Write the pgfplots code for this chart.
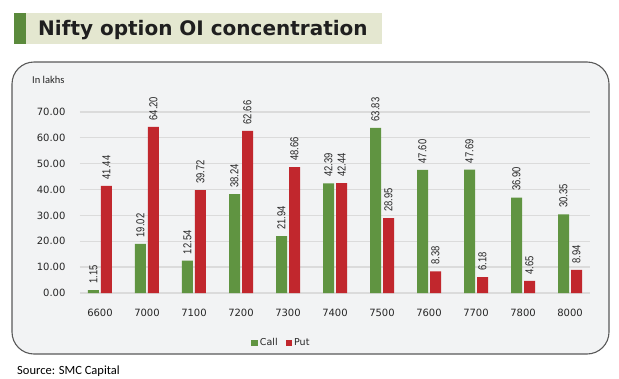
\documentclass[border=0pt]{standalone}
\usepackage{fontspec}
\setmainfont{DejaVu Sans}
\newfontfamily\calibri{Carlito}
\newfontfamily\narrow[FakeStretch=0.82]{Liberation Sans}
\usepackage{pgfplots}
\pgfplotsset{compat=1.18}
\definecolor{callgreen}{HTML}{609441}
\definecolor{putred}{HTML}{C1272D}
\definecolor{titlebg}{HTML}{E4E7D0}
\definecolor{titlegreen}{HTML}{5B8A3C}
\definecolor{boxbg}{HTML}{F2F3F4}
\begin{document}
\begin{tikzpicture}
\useasboundingbox (0pt,0pt) rectangle (619pt,-378pt);
% title band
\fill[titlebg] (25pt,-12.5pt) rectangle (382pt,-43.5pt);
\fill[titlegreen] (14pt,-12.5pt) rectangle (25.5pt,-43.5pt);
\node[anchor=base west, inner sep=0pt, font=\fontsize{20}{24}\selectfont\bfseries, text=black!88] at (38pt,-35pt) {Nifty option OI concentration};
% chart box
\draw[fill=boxbg, draw=black!65, line width=1.1pt, rounded corners=22pt] (12pt,-62pt) rectangle (609pt,-354pt);
\node[anchor=base west, inner sep=0pt, font=\calibri\fontsize{10.5}{12}\selectfont, text=black!85] at (32pt,-83pt) {In lakhs};
\begin{axis}[
  at={(80pt,-293pt)}, anchor=south west,
  scale only axis, width=510pt, height=207pt,
  xmin=-0.4255, xmax=10.4255, ymin=0, ymax=80,
  ybar=2pt, bar width=11pt,
  axis line style={draw=none},
  xtick=data,
  xticklabels={6600,7000,7100,7200,7300,7400,7500,7600,7700,7800,8000},
  ytick={0,10,...,70},
  ymajorgrids,
  major grid style={draw=black!14, line width=1.3pt},
  /pgf/number format/assume math mode=true,
  tick label style={font=\fontsize{10}{12}\selectfont, text=black!85},
  yticklabel style={anchor=east, xshift=-11pt, /pgf/number format/fixed, /pgf/number format/fixed zerofill, /pgf/number format/precision=2},
  xticklabel style={anchor=north, yshift=-8pt},
  tick style={draw=none},
  nodes near coords={\pgfmathprintnumber[fixed, fixed zerofill, precision=2, assume math mode=true]{\pgfplotspointmeta}},
  nodes near coords style={rotate=90, anchor=west, font=\narrow\fontsize{11.5}{13}\selectfont, text=black!85, xshift=3pt},
  legend style={at={(0.395,-0.2415)}, anchor=center, draw=none, fill=none, legend columns=2,
    font=\fontsize{9.5}{11}\selectfont, text=black!85,
    /tikz/every even column/.append style={column sep=6pt}},
  legend image code/.code={\fill[#1,draw=none] (0pt,-3.2pt) rectangle (6.5pt,3.2pt);},
]
\addplot[fill=callgreen, draw=none] coordinates {(0,1.15) (1,19.02) (2,12.54) (3,38.24) (4,21.94) (5,42.39) (6,63.83) (7,47.60) (8,47.69) (9,36.90) (10,30.35)};
\addplot[fill=putred, draw=none] coordinates {(0,41.44) (1,64.20) (2,39.72) (3,62.66) (4,48.66) (5,42.44) (6,28.95) (7,8.38) (8,6.18) (9,4.65) (10,8.94)};
\legend{Call,Put}
\end{axis}
\node[anchor=base west, inner sep=0pt, font=\calibri\fontsize{12.5}{14}\selectfont, text=black] at (17pt,-374pt) {Source: SMC Capital};
\end{tikzpicture}
\end{document}
